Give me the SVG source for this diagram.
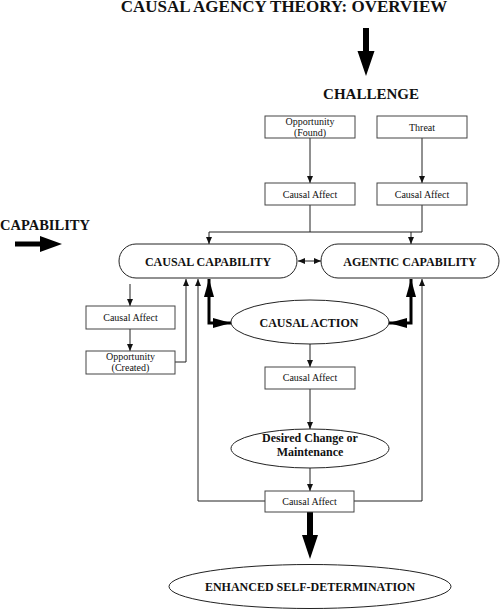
<svg xmlns="http://www.w3.org/2000/svg" width="501" height="610" viewBox="0 0 501 610">
<style>
text{font-family:"Liberation Serif","Times New Roman",serif;fill:#111;text-anchor:middle}
.b{font-weight:bold}
.box{fill:#fff;stroke:#444;stroke-width:1}
.shape{fill:#fff;stroke:#222;stroke-width:1}
.ln{fill:none;stroke:#222;stroke-width:1}
.thick{fill:none;stroke:#000;stroke-width:3}
.sm{font-size:10px}
.big{fill:#000}
</style>
<defs>
<marker id="ah" markerUnits="userSpaceOnUse" markerWidth="7" markerHeight="6" refX="7" refY="3" orient="auto-start-reverse"><path d="M0,0 L7,3 L0,6 z" fill="#111"/></marker>
<marker id="ahT" markerUnits="userSpaceOnUse" markerWidth="18" markerHeight="10" refX="18" refY="5" orient="auto-start-reverse"><path d="M0,0 L18,5 L0,10 z" fill="#000"/></marker>
</defs>
<g id="title"><text class="b" x="284" y="12" font-size="17">CAUSAL AGENCY THEORY: OVERVIEW</text></g>
<g id="challenge-label"><text class="b" x="371" y="99" font-size="15">CHALLENGE</text></g>
<g id="capability-label"><text class="b" x="0" y="230" font-size="14.5" style="text-anchor:start">CAPABILITY</text></g>
<g id="big-arrows">
<polygon class="big" points="363,28 369,28 369,51 374.5,51 366,76 357.5,51 363,51"/>
<polygon class="big" points="15,241.5 40,241.5 40,236 62,244 40,252 40,246.5 15,246.5"/>
<polygon class="big" points="307,512 313,512 313,535 318,535 310,559 302,535 307,535"/>
</g>
<g id="connectors">
<path class="ln" d="M310,138 V183" marker-end="url(#ah)"/>
<path class="ln" d="M422,138 V183" marker-end="url(#ah)"/>
<path class="ln" d="M310,205 V232 M422,205 V232 M209,232 H422"/>
<path class="ln" d="M209,232 V244" marker-end="url(#ah)"/>
<path class="ln" d="M411,232 V244" marker-end="url(#ah)"/>
<path class="ln" d="M298,261 H321" marker-start="url(#ah)" marker-end="url(#ah)"/>
<path class="ln" d="M130,284 V306" marker-end="url(#ah)"/>
<path class="ln" d="M130,329 V351" marker-end="url(#ah)"/>
<path class="ln" d="M175,362 H186 V279" marker-end="url(#ah)"/>
<path class="ln" d="M265,501 H198 V279" marker-end="url(#ah)"/>
<path class="ln" d="M354,501 H422 V279" marker-end="url(#ah)"/>
<path class="thick" d="M209,279 V323 H231" marker-start="url(#ahT)" marker-end="url(#ahT)"/>
<path class="thick" d="M411,279 V323 H389" marker-start="url(#ahT)" marker-end="url(#ahT)"/>
<path class="ln" d="M310,344 V367" marker-end="url(#ah)"/>
<path class="ln" d="M310,389 V429" marker-end="url(#ah)"/>
<path class="ln" d="M310,468 V491" marker-end="url(#ah)"/>
</g>
<g id="opportunity-found"><rect class="box" x="265" y="116" width="90" height="22"/><text class="sm" x="310" y="124.5">Opportunity</text><text class="sm" x="310" y="135.5">(Found)</text></g>
<g id="threat"><rect class="box" x="377" y="116" width="90" height="22"/><text class="sm" x="422" y="130.5">Threat</text></g>
<g id="causal-affect-1"><rect class="box" x="265" y="183" width="90" height="22"/><text class="sm" x="310" y="197.5">Causal Affect</text></g>
<g id="causal-affect-2"><rect class="box" x="377" y="183" width="90" height="22"/><text class="sm" x="422" y="197.5">Causal Affect</text></g>
<g id="causal-capability"><rect class="shape" x="119" y="244" width="178" height="34" rx="17" ry="17"/><text class="b" x="208" y="266" font-size="12">CAUSAL CAPABILITY</text></g>
<g id="agentic-capability"><rect class="shape" x="321" y="244" width="178" height="34" rx="17" ry="17"/><text class="b" x="410" y="266" font-size="12">AGENTIC CAPABILITY</text></g>
<g id="causal-affect-left"><rect class="box" x="86" y="306" width="89" height="23"/><text class="sm" x="130.5" y="321">Causal Affect</text></g>
<g id="opportunity-created"><rect class="box" x="86" y="351" width="89" height="23"/><text class="sm" x="130.5" y="359.5">Opportunity</text><text class="sm" x="130.5" y="370.5">(Created)</text></g>
<g id="causal-action"><ellipse class="shape" cx="310" cy="322" rx="79" ry="22"/><text class="b" x="309" y="326.5" font-size="12">CAUSAL ACTION</text></g>
<g id="causal-affect-3"><rect class="box" x="265" y="367" width="90" height="22"/><text class="sm" x="310" y="381">Causal Affect</text></g>
<g id="desired-change"><ellipse class="shape" cx="310" cy="448.5" rx="79" ry="19.5"/><text class="b" x="310" y="442" font-size="12">Desired Change or</text><text class="b" x="310" y="456" font-size="12">Maintenance</text></g>
<g id="causal-affect-4"><rect class="box" x="265" y="491" width="89" height="21"/><text class="sm" x="309.5" y="505">Causal Affect</text></g>
<g id="enhanced-self-determination"><ellipse class="shape" cx="310" cy="586.5" rx="141" ry="22"/><text class="b" x="310" y="591" font-size="12">ENHANCED SELF-DETERMINATION</text></g>
</svg>
